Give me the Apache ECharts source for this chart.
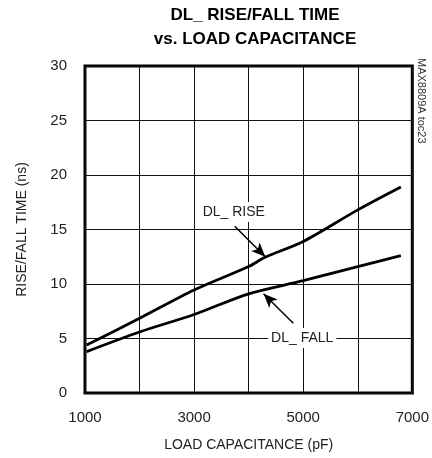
<!DOCTYPE html>
<html><head><meta charset="utf-8">
<script src="https://cdn.jsdelivr.net/npm/echarts@6/dist/echarts.min.js"></script>
<style>html,body{margin:0;padding:0;background:#fff}#c{width:432px;height:458px}</style>
</head><body><div id="c"></div>
<script>
var FONT = '"Liberation Sans Narrow","Arial Narrow","Liberation Sans",Arial,sans-serif';
var titleText = 'DL_ RISE/FALL TIME\nvs. LOAD CAPACITANCE';
var xName = 'LOAD CAPACITANCE (pF)';
var yName = 'RISE/FALL TIME (ns)';
var xTickLabels = [1000, 3000, 5000, 7000];
var riseX = [1030, 2000, 3000, 4000, 4300, 5000, 6000, 6790];
var riseY = [4.4, 6.85, 9.45, 11.6, 12.45, 13.9, 16.8, 18.9];
var fallX = [1030, 2000, 3000, 4000, 5000, 6000, 6790];
var fallY = [3.8, 5.6, 7.2, 9.1, 10.3, 11.6, 12.6];
var riseLabel = {text: 'DL_ RISE', at: [3727, 16.6]};
var fallLabel = {text: 'DL_ FALL', at: [4982, 5.05]};
var riseArrow = [[3745, 15.3], [4304, 12.5]];
var fallArrow = [[4818, 6.4], [4273, 9.1]];
var noteText = 'MAX8809A toc23';

function pairs(xs, ys){ return xs.map(function(x,i){return [x, ys[i]];}); }

var chart = echarts.init(document.getElementById('c'));
chart.setOption({
  animation: false,
  backgroundColor: '#fff',
  title: {
    text: titleText, left: 250, top: -2, textAlign: 'center',
    textStyle: {fontFamily: FONT, fontWeight: 'bold', fontSize: 17, lineHeight: 24, color: '#000'}
  },
  grid: {left: 85, right: 17, top: 66, bottom: 65, show: true, borderColor: '#000', borderWidth: 3, containLabel: false},
  xAxis: {
    type: 'value', min: 1000, max: 7000, interval: 1000,
    name: xName, nameLocation: 'middle', nameGap: 45,
    nameTextStyle: {fontFamily: FONT, fontSize: 14, color: '#222'},
    axisLine: {show: false}, axisTick: {show: false},
    axisLabel: {margin: 17, fontFamily: FONT, fontSize: 15, color: '#222',
      formatter: function(v){ return xTickLabels.indexOf(v) >= 0 ? String(v) : ''; }},
    splitLine: {show: true, lineStyle: {color: '#111', width: 1}}
  },
  yAxis: {
    type: 'value', min: 0, max: 30, interval: 5,
    name: yName, nameLocation: 'middle', nameGap: 56,
    nameTextStyle: {fontFamily: FONT, fontSize: 14, color: '#222'},
    axisLine: {show: false}, axisTick: {show: false},
    axisLabel: {margin: 18, fontFamily: FONT, fontSize: 15, color: '#222'},
    splitLine: {show: true, lineStyle: {color: '#111', width: 1}}
  },
  graphic: [{
    type: 'text', left: 416, top: 58, rotation: -Math.PI/2,
    style: {text: noteText, fontFamily: FONT, fontSize: 11, fill: '#333'}
  }],
  series: [
    {type: 'line', name: 'DL_ RISE', data: pairs(riseX, riseY), smooth: 0.3, symbol: 'none',
     lineStyle: {color: '#000', width: 2.8}, z: 5,
     markLine: {silent: true, symbol: ['none', 'arrow'], symbolSize: [9, 14],
       lineStyle: {color: '#000', width: 1.5, type: 'solid'}, label: {show: false},
       data: [[{coord: riseArrow[0]}, {coord: riseArrow[1]}], [{coord: fallArrow[0]}, {coord: fallArrow[1]}]]},
     markPoint: {silent: true, symbol: 'rect', symbolSize: 1, itemStyle: {color: 'rgba(0,0,0,0)'},
       label: {show: true, position: 'inside', fontFamily: FONT, fontSize: 14, color: '#222',
         backgroundColor: '#fff', padding: [3, 3]},
       data: [{coord: riseLabel.at, value: riseLabel.text, label: {formatter: riseLabel.text}},
              {coord: fallLabel.at, value: fallLabel.text, label: {formatter: fallLabel.text}}]}
    },
    {type: 'line', name: 'DL_ FALL', data: pairs(fallX, fallY), smooth: 0.3, symbol: 'none',
     lineStyle: {color: '#000', width: 2.8}, z: 5}
  ]
});
</script></body></html>
